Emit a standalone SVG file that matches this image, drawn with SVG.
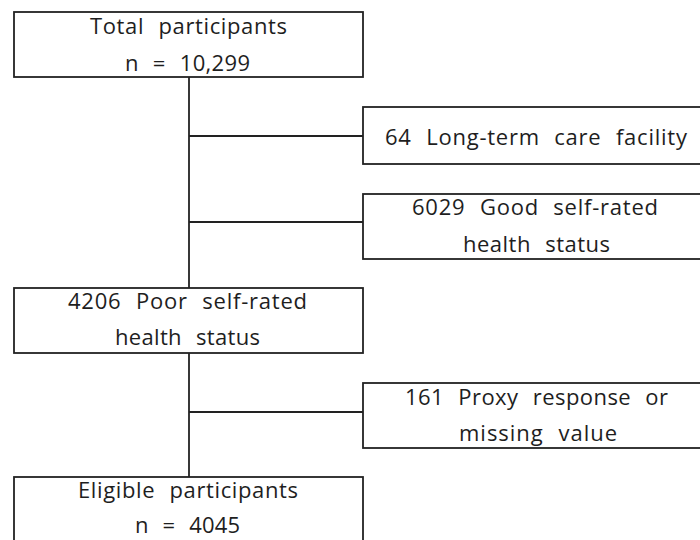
<svg xmlns="http://www.w3.org/2000/svg" width="700" height="540" viewBox="0 0 700 540">
  <style>
    .box { fill: #ffffff; stroke: #222222; stroke-width: 1.8; }
    .link { fill: none; stroke: #222222; stroke-width: 1.8; }
    .lbl { font-family: "Open Sans", "Noto Sans", "Liberation Sans", sans-serif; font-size: 22px; fill: #1e1e1e; word-spacing: 8px; }
  </style>
  <rect width="700" height="540" fill="#ffffff"/>

  <g id="connectors">
    <line class="link" x1="189" y1="77" x2="189" y2="288"/>
    <line class="link" x1="189" y1="353" x2="189" y2="477"/>
    <line class="link" x1="189" y1="136" x2="363" y2="136"/>
    <line class="link" x1="189" y1="222" x2="363" y2="222"/>
    <line class="link" x1="189" y1="412" x2="363" y2="412"/>
  </g>

  <g id="total">
    <rect class="box" x="14" y="12" width="349" height="65"/>
    <text class="lbl" x="90" y="34" textLength="197" lengthAdjust="spacing">Total participants</text>
    <text class="lbl" x="125" y="71" textLength="125" lengthAdjust="spacing">n = 10,299</text>
  </g>

  <g id="ltc">
    <rect class="box" x="363" y="107" width="350" height="57"/>
    <text class="lbl" x="385" y="145" textLength="302" lengthAdjust="spacing">64 Long-term care facility</text>
  </g>

  <g id="good">
    <rect class="box" x="363" y="194" width="350" height="65"/>
    <text class="lbl" x="412" y="215" textLength="246" lengthAdjust="spacing">6029 Good self-rated</text>
    <text class="lbl" x="463" y="252" textLength="147" lengthAdjust="spacing">health status</text>
  </g>

  <g id="poor">
    <rect class="box" x="14" y="288" width="349" height="65"/>
    <text class="lbl" x="68" y="309" textLength="239" lengthAdjust="spacing">4206 Poor self-rated</text>
    <text class="lbl" x="115" y="345" textLength="145" lengthAdjust="spacing">health status</text>
  </g>

  <g id="proxy">
    <rect class="box" x="363" y="383" width="350" height="65"/>
    <text class="lbl" x="405" y="405" textLength="263" lengthAdjust="spacing">161 Proxy response or</text>
    <text class="lbl" x="459" y="441" textLength="158" lengthAdjust="spacing">missing value</text>
  </g>

  <g id="eligible">
    <rect class="box" x="14" y="477" width="349" height="75"/>
    <text class="lbl" x="78" y="498" textLength="220" lengthAdjust="spacing">Eligible participants</text>
    <text class="lbl" x="135" y="533" textLength="105" lengthAdjust="spacing">n = 4045</text>
  </g>
</svg>
